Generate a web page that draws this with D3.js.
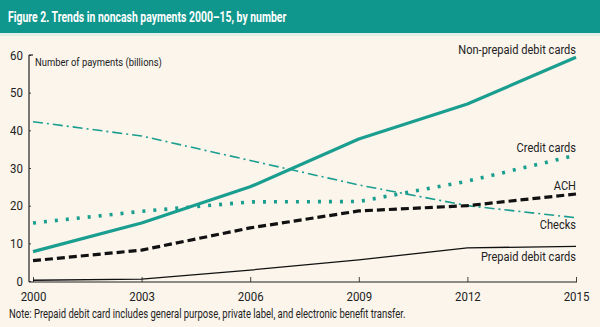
<!DOCTYPE html>
<html>
<head>
<meta charset="utf-8">
<script src="https://cdn.jsdelivr.net/npm/d3@7/dist/d3.min.js"></script>
<style>
  html, body { margin: 0; padding: 0; background: #fbf5ec; }
  svg { display: block; }
  text { font-family: Roboto, "Liberation Sans", sans-serif; }
</style>
</head>
<body>
<svg id="chart" width="600" height="327"></svg>
<script>
// Survey years on the x-axis
const years = [2000, 2003, 2006, 2009, 2012, 2015];
// Number of payments, billions
const nonPrepaidDebit = [7.8, 15.4, 25.0, 37.7, 47.0, 59.4];
const creditCards     = [15.4, 18.5, 21.0, 21.1, 26.5, 33.4];
const ach             = [5.4, 8.2, 14.1, 18.6, 20.0, 23.1];
const checks          = [42.3, 38.5, 32.0, 25.5, 20.0, 16.8];
const prepaidDebit    = [0.2, 0.5, 2.9, 5.6, 8.8, 9.2];
const yTicks = [0, 10, 20, 30, 40, 50, 60];

const teal = "#1a9e8f";
const series = [
  { name: "Checks", values: checks, color: teal, width: 1.6, dash: "10,4,2,4", labelY: 229 },
  { name: "Prepaid debit cards", values: prepaidDebit, color: "#111", width: 1.3, dash: null, labelY: 261 },
  { name: "ACH", values: ach, color: "#111", width: 3.2, dash: "8,4", labelY: 190 },
  { name: "Credit cards", values: creditCards, color: teal, width: 3.6, dash: "3,8", labelY: 152 },
  { name: "Non-prepaid debit cards", values: nonPrepaidDebit, color: teal, width: 3.2, dash: null, labelY: 54 }
];

const svg = d3.select("#chart");
const W = 600;

// Narrow-style text: horizontally compressed glyphs
function narrowText(parent, px, py, str, opts) {
  const g = parent.append("g").attr("transform", `translate(${px},${py}) scale(${opts.sx},1)`);
  return g.append("text")
    .attr("x", 0).attr("y", 0)
    .attr("font-size", opts.size)
    .attr("font-weight", opts.weight || "normal")
    .attr("fill", opts.fill || "#222")
    .attr("text-anchor", opts.anchor || "start")
    .text(str);
}

// Header band
svg.append("rect").attr("x", 0).attr("y", 0).attr("width", W).attr("height", 33).attr("fill", "#0f978d");
svg.append("rect").attr("x", 0).attr("y", 33).attr("width", W).attr("height", 3).attr("fill", "#e2f0e8");
narrowText(svg, 8, 22, "Figure 2. Trends in noncash payments 2000\u201315, by number",
  { size: 14.5, weight: "bold", fill: "#fff", sx: 0.72 });

const x = d3.scaleLinear().domain([2000, 2015]).range([33, 576]);
const y = d3.scaleLinear().domain([0, 60]).range([281, 55]);
const axisX0 = 29;

// Y axis
const yAxis = d3.axisLeft(y).tickValues(yTicks).tickSize(-2).tickPadding(4).tickFormat(d3.format("d"));
const gy = svg.append("g").attr("transform", `translate(${axisX0},0)`).call(yAxis);
gy.select(".domain").remove();
gy.append("line").attr("x1", 0).attr("x2", 0).attr("y1", y(60)).attr("y2", y(0) + 1)
  .attr("stroke", "#222").attr("stroke-width", 1.2);
gy.append("line").attr("x1", 0).attr("x2", 4).attr("y1", y(60)).attr("y2", y(60))
  .attr("stroke", "#222").attr("stroke-width", 1.2);
gy.selectAll(".tick line").attr("stroke", "#444");
gy.selectAll(".tick text").attr("font-size", 13).attr("fill", "#222")
  .attr("font-family", "Roboto, sans-serif")
  .attr("transform", "scale(0.88,1)").attr("x", -7);

// X axis
const xAxis = d3.axisBottom(x).tickValues(years).tickSize(-5).tickPadding(10).tickFormat(d3.format("d"));
const gx = svg.append("g").attr("transform", `translate(0,${y(0) + 1})`).call(xAxis);
gx.select(".domain").remove();
gx.append("line").attr("x1", axisX0).attr("x2", x(2015) + 1).attr("y1", 0).attr("y2", 0)
  .attr("stroke", "#222").attr("stroke-width", 1.2);
gx.selectAll(".tick line").attr("stroke", "#444");
gx.selectAll(".tick text").attr("font-size", 13).attr("fill", "#222")
  .attr("font-family", "Roboto, sans-serif")
  .attr("transform", "scale(0.88,1)");

// Axis title
narrowText(svg, 35, 66, "Number of payments (billions)", { size: 11.5, sx: 0.82 });

// Series lines and end labels
const line = d3.line().x((d, i) => x(years[i])).y(d => y(d));
series.forEach(s => {
  svg.append("path").datum(s.values)
    .attr("d", line)
    .attr("fill", "none")
    .attr("stroke", s.color)
    .attr("stroke-width", s.width)
    .attr("stroke-dasharray", s.dash)
    .attr("stroke-linecap", "butt")
    .attr("stroke-linejoin", "round");
  narrowText(svg, x(2015), s.labelY, s.name, { size: 13.5, sx: 0.82, anchor: "end" });
});

// Footnote
narrowText(svg, 9, 318, "Note: Prepaid debit card includes general purpose, private label, and electronic benefit transfer.",
  { size: 12, sx: 0.79 });
</script>
</body>
</html>
